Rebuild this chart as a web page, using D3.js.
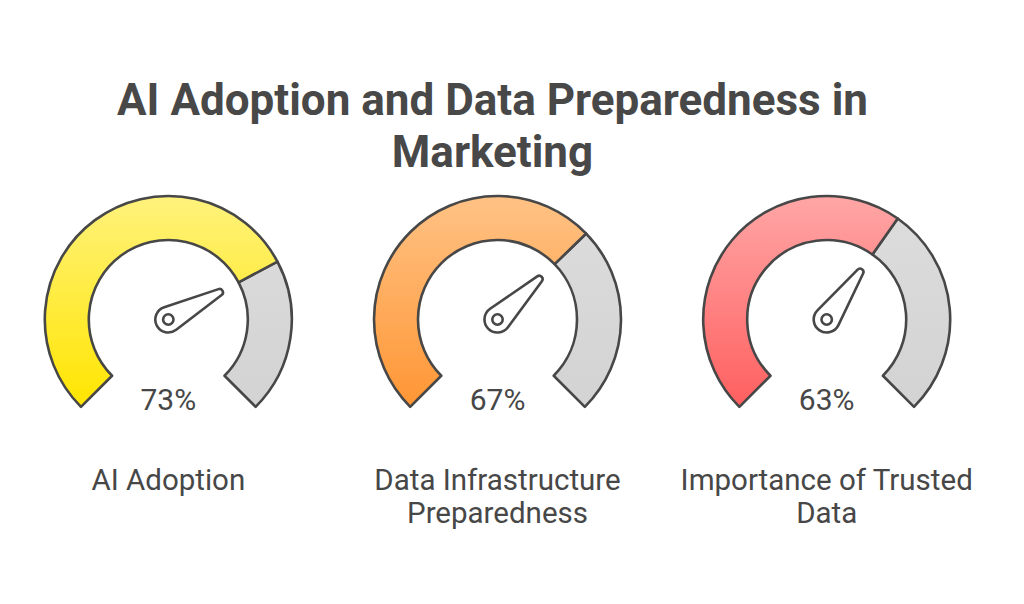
<!DOCTYPE html>
<html>
<head>
<meta charset="utf-8">
<script src="https://cdn.jsdelivr.net/npm/d3@7"></script>
<style>
  html, body { margin: 0; padding: 0; background: #ffffff; }
  svg { display: block; }
  text { font-family: Roboto, "Noto Sans", sans-serif; }
</style>
</head>
<body>
<svg id="chart" width="1024" height="604"></svg>
<script>
// ---- data ----
const titleLines = ["AI Adoption and Data Preparedness in", "Marketing"];
const categories = ["AI Adoption", "Data Infrastructure Preparedness", "Importance of Trusted Data"];
const values = [73, 67, 63];
const labelLines = [["AI Adoption"], ["Data Infrastructure", "Preparedness"], ["Importance of Trusted", "Data"]];
const gradTop = ["#FFF27C", "#FFC285", "#FFA6A6"];
const gradBottom = ["#FFE500", "#FF9634", "#FF5F5F"];

// ---- layout ----
const W = 1024, H = 604;
const svg = d3.select("#chart");
const ink = "#474747";

const x = d3.scalePoint().domain(categories).range([3.7, 991.3]).padding(0.5);
const angle = d3.scaleLinear().domain([0, 100]).range([-135 * Math.PI / 180, 135 * Math.PI / 180]);
const cy = 319.5, rOuter = 123.5, rInner = 79.5;

// title
svg.append("g").selectAll("text").data(titleLines).join("text")
  .attr("x", 492.5)
  .attr("y", (d, i) => 114.5 + i * 52.5)
  .attr("text-anchor", "middle")
  .attr("font-size", 44)
  .attr("font-weight", 700)
  .attr("fill", "#484848")
  .text(d => d);

const defs = svg.append("defs");
categories.forEach((c, i) => {
  const g = defs.append("linearGradient").attr("id", "grad" + i)
    .attr("gradientUnits", "userSpaceOnUse")
    .attr("x1", 0).attr("x2", 0).attr("y1", -rOuter).attr("y2", rOuter * Math.SQRT1_2);
  g.append("stop").attr("offset", 0).attr("stop-color", gradTop[i]);
  g.append("stop").attr("offset", 1).attr("stop-color", gradBottom[i]);
});
const gg = defs.append("linearGradient").attr("id", "gradGrey")
  .attr("gradientUnits", "userSpaceOnUse")
  .attr("x1", 0).attr("x2", 0).attr("y1", -rOuter).attr("y2", rOuter * Math.SQRT1_2);
gg.append("stop").attr("offset", 0).attr("stop-color", "#DDDDDD");
gg.append("stop").attr("offset", 1).attr("stop-color", "#D3D3D3");

const arc = d3.arc().innerRadius(rInner).outerRadius(rOuter);

const gauges = svg.selectAll("g.gauge").data(categories).join("g")
  .attr("class", "gauge")
  .attr("transform", d => `translate(${x(d)},${cy})`);

// grey remainder
gauges.append("path")
  .attr("d", (d, i) => arc({ startAngle: angle(values[i]), endAngle: angle(100) }))
  .attr("fill", "url(#gradGrey)")
  .attr("stroke", ink).attr("stroke-width", 2.6).attr("stroke-linejoin", "round");

// value arc
gauges.append("path")
  .attr("d", (d, i) => arc({ startAngle: angle(0), endAngle: angle(values[i]) }))
  .attr("fill", (d, i) => `url(#grad${i})`)
  .attr("stroke", ink).attr("stroke-width", 2.6).attr("stroke-linejoin", "round");

// needle
function needlePath(v) {
  const a = angle(v); // clockwise from up
  const ux = Math.sin(a), uy = -Math.cos(a);
  const nx = -uy, ny = ux;
  const R = 13, r = 3.4, L = 58;
  const tx = ux * L, ty = uy * L;
  const ca = (R - r) / L, sa = Math.sqrt(1 - ca * ca);
  const h1 = [R * (ca * ux + sa * nx), R * (ca * uy + sa * ny)];
  const h2 = [R * (ca * ux - sa * nx), R * (ca * uy - sa * ny)];
  const t1 = [tx + r * (ca * ux + sa * nx), ty + r * (ca * uy + sa * ny)];
  const t2 = [tx + r * (ca * ux - sa * nx), ty + r * (ca * uy - sa * ny)];
  return `M${h1[0]},${h1[1]}L${t1[0]},${t1[1]}A${r},${r} 0 0 0 ${t2[0]},${t2[1]}L${h2[0]},${h2[1]}A${R},${R} 0 1 0 ${h1[0]},${h1[1]}Z`;
}
gauges.append("path")
  .attr("d", (d, i) => needlePath(values[i]))
  .attr("fill", "#ffffff")
  .attr("stroke", ink).attr("stroke-width", 2.6).attr("stroke-linejoin", "round");
gauges.append("circle").attr("r", 5.2)
  .attr("fill", "#ffffff").attr("stroke", ink).attr("stroke-width", 2.6);

// value labels
gauges.append("text")
  .attr("y", 410 - cy)
  .attr("text-anchor", "middle")
  .attr("font-size", 30)
  .attr("fill", ink)
  .text((d, i) => values[i] + "%");

// category labels
gauges.each(function (d, i) {
  d3.select(this).append("g").selectAll("text").data(labelLines[i]).join("text")
    .attr("y", (t, j) => 490 - cy + j * 33)
    .attr("text-anchor", "middle")
    .attr("font-size", 29.5)
    .attr("fill", ink)
    .text(t => t);
});
</script>
</body>
</html>
